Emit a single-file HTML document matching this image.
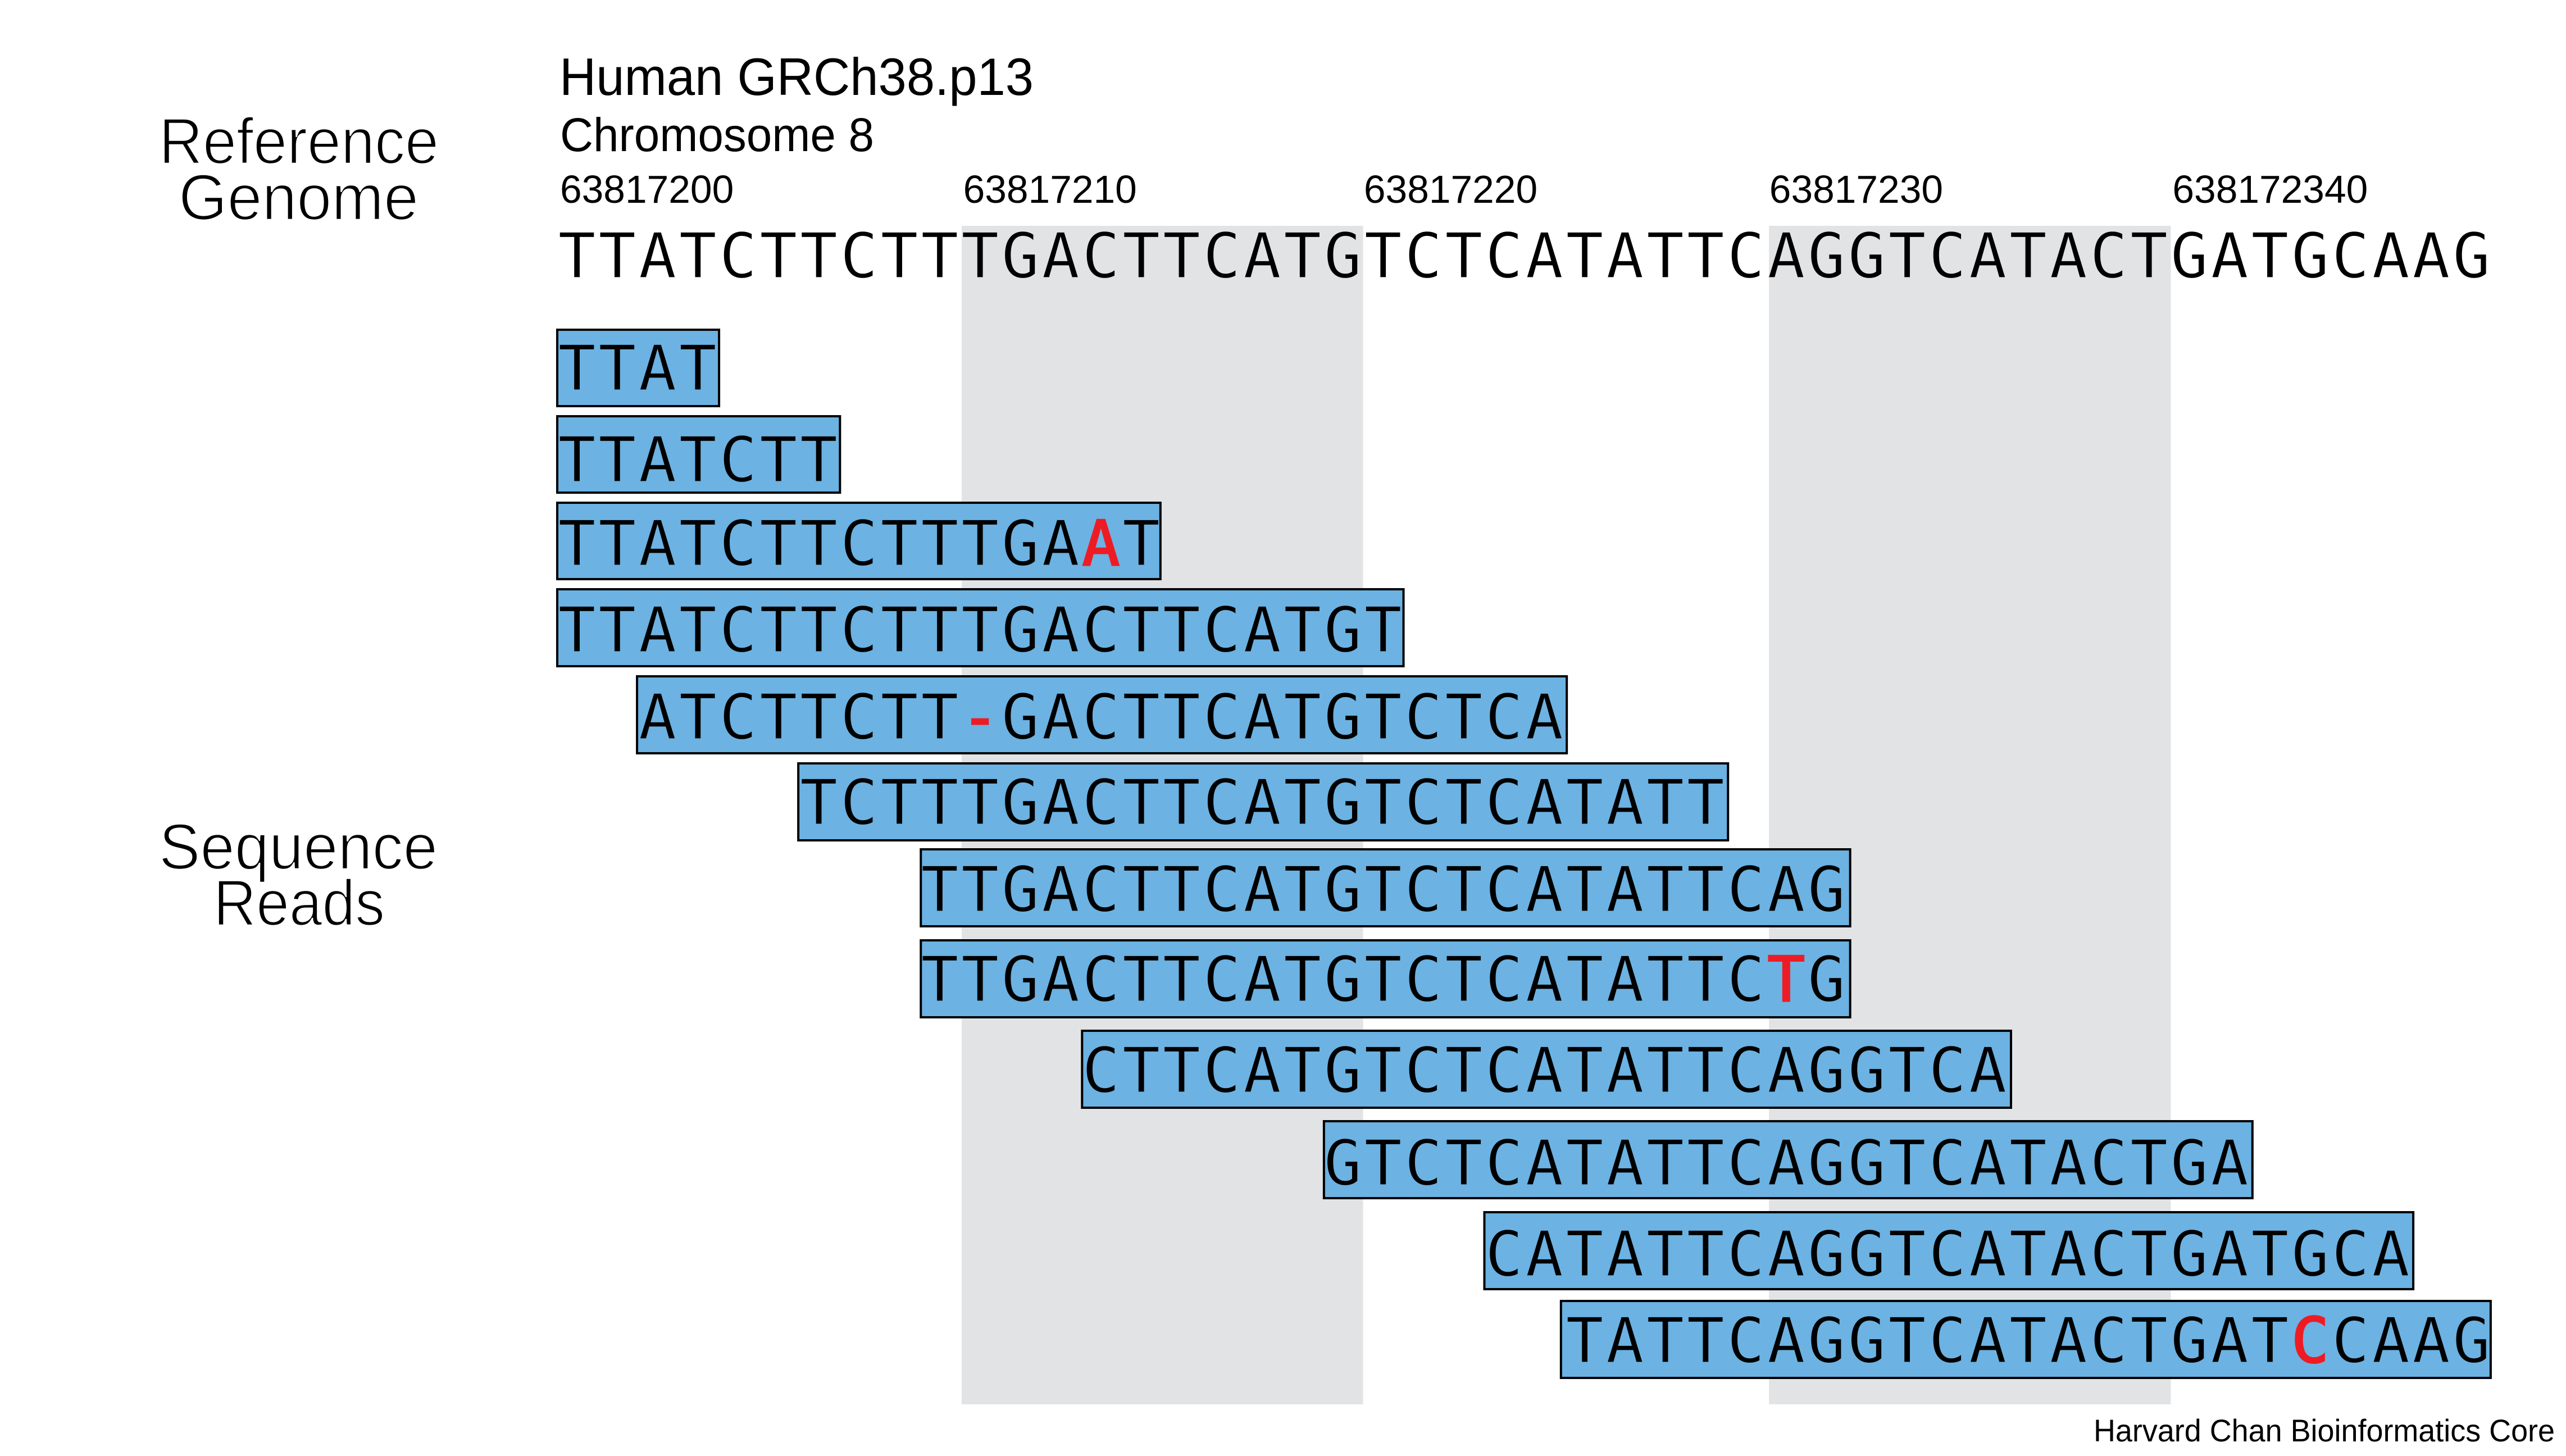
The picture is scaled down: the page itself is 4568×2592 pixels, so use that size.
<!DOCTYPE html>
<html lang="en">
<head>
<meta charset="utf-8">
<title>Reference genome and sequence reads</title>
<style>
html,body{margin:0;padding:0;background:#fff;}
svg{display:block;}
.sans{font-family:"Liberation Sans","DejaVu Sans",sans-serif;fill:#000;}
.thin{stroke:#fff;stroke-width:2.6px;}
.seq{font-family:"DejaVu Sans Mono","Liberation Mono",monospace;font-size:111px;fill:#000;}
.seq-read{stroke:#6CB2E2;stroke-width:1.2px;}
.seq-plain{stroke:#fff;stroke-width:1.2px;}
.seq-band{stroke:#E1E3E5;stroke-width:1.2px;}
.mm{fill:#ED1C24;stroke:#ED1C24;stroke-width:3px;}
</style>
</head>
<body>
<svg id="chart" xmlns="http://www.w3.org/2000/svg" width="4568" height="2592" viewBox="0 0 4568 2592">
  <rect x="0" y="0" width="4568" height="2592" fill="#ffffff"/>
  <g id="bands"></g>
  <g id="ticks"></g>
  <text id="ref" class="seq"></text>
  <g id="reads"></g>

  <text class="sans" x="996" y="169" font-size="94" textLength="844" lengthAdjust="spacingAndGlyphs">Human GRCh38.p13</text>
  <text class="sans" x="997" y="269" font-size="84" textLength="559" lengthAdjust="spacingAndGlyphs">Chromosome 8</text>

  <text class="sans thin" x="283" y="291" font-size="115" textLength="498" lengthAdjust="spacingAndGlyphs">Reference</text>
  <text class="sans thin" x="318" y="391" font-size="115" textLength="427" lengthAdjust="spacingAndGlyphs">Genome</text>
  <text class="sans thin" x="283" y="1547" font-size="115" textLength="496" lengthAdjust="spacingAndGlyphs">Sequence</text>
  <text class="sans thin" x="380" y="1647" font-size="115" textLength="305" lengthAdjust="spacingAndGlyphs">Reads</text>

  <text class="sans" x="3727" y="2566" font-size="56" textLength="821" lengthAdjust="spacingAndGlyphs">Harvard Chan Bioinformatics Core</text>
</svg>
<script>
// ---- data ----
const referenceSeq = "TTATCTTCTTTGACTTCATGTCTCATATTCAGGTCATACTGATGCAAG";
const tickLabels = ["63817200","63817210","63817220","63817230","638172340"];
const tickBases = [0,10,19.94,30,40];
const bandStarts = [10,30.03];
const bandEnds = [19.96,40];
const readSeqs = [
  "TTAT",
  "TTATCTT",
  "TTATCTTCTTTGAAT",
  "TTATCTTCTTTGACTTCATGT",
  "ATCTTCTT-GACTTCATGTCTCA",
  "TCTTTGACTTCATGTCTCATATT",
  "TTGACTTCATGTCTCATATTCAG",
  "TTGACTTCATGTCTCATATTCTG",
  "CTTCATGTCTCATATTCAGGTCA",
  "GTCTCATATTCAGGTCATACTGA",
  "CATATTCAGGTCATACTGATGCA",
  "TATTCAGGTCATACTGATCCAAG"
];
const readStarts = [0,0,0,0,2,6,9,9,13,19,23,25];
// index in each read of the base that differs from the reference (-1 = none)
const readMismatch = [-1,-1,13,-1,8,-1,-1,21,-1,-1,-1,18];
// box extents along the base axis, as drawn (slightly uneven in the figure)
const boxStarts = [0,0,0,0,1.98,5.98,9.02,9.02,13.02,19.02,23,24.9];
const boxEnds = [4.07,7.07,15.02,21.05,25.1,29.1,32.13,32.13,36.12,42.11,46.1,48.02];
// vertical placement in lane units (1 lane = 100px from the first box top)
const laneTops = [0,1.54,3.08,4.62,6.17,7.72,9.25,10.87,12.48,14.09,15.71,17.29];
const laneBottoms = [1.4,2.94,4.48,6.03,7.58,9.13,10.66,12.28,13.89,15.5,17.12,18.7];
const laneBaselines = [1.09,2.72,4.21,5.75,7.3,8.82,10.37,11.97,13.59,15.24,16.86,18.4];

// ---- axis functions ----
const PITCH = 71.76;
const GLYPH_ADV = 66.8;
const centerOf = b => 1027 + PITCH * b;
const glyphX = b => centerOf(b) - GLYPH_ADV / 2;
const boxX = b => 990 + PITCH * b;
const bandX = b => 1712 + (b - 10) * 71.75;
const tickX = b => 997 + PITCH * b;
const laneY = l => 585 + l * 100;

const NS = "http://www.w3.org/2000/svg";
function mk(tag, attrs) {
  const el = document.createElementNS(NS, tag);
  for (const k in attrs) el.setAttribute(k, attrs[k]);
  return el;
}
function positions(start, len) {
  const out = [];
  for (let i = 0; i < len; i++) out.push(glyphX(start + i).toFixed(2));
  return out.join(" ");
}

// bands
const bandsG = document.getElementById("bands");
bandStarts.forEach((s, i) => {
  const r = mk("rect", {x: bandX(s), y: 402, width: bandX(bandEnds[i]) - bandX(s), height: 2098, fill: "#E1E3E5"});
  
  
  bandsG.appendChild(r);
});

// ticks
const ticksG = document.getElementById("ticks");
tickLabels.forEach((lab, i) => {
  const t = mk("text", {x: tickX(tickBases[i]), y: 361, "font-size": 69.5, "class": "sans"});
  
  
  t.textContent = lab;
  ticksG.appendChild(t);
});

// reference: slightly thinned glyphs, split at the highlight bands
const refEl = document.getElementById("ref");
refEl.setAttribute("x", positions(0, referenceSeq.length));
refEl.setAttribute("y", 494);
let refCursor = 0;
function refRun(end, cls) {
  const run = mk("tspan", {"class": cls});
  
  
  run.textContent = referenceSeq.slice(refCursor, end);
  refEl.appendChild(run);
  refCursor = end;
}
bandStarts.forEach((s, i) => {
  refRun(Math.round(s), "seq-plain");
  refRun(Math.round(bandEnds[i]), "seq-band");
});
refRun(referenceSeq.length, "seq-plain");

// reads
const readsG = document.getElementById("reads");
readSeqs.forEach((seq, i) => {
  const g = mk("g", {});
  
  

  const x0 = boxX(boxStarts[i]), x1 = boxX(boxEnds[i]);
  const y0 = laneY(laneTops[i]), y1 = laneY(laneBottoms[i]);
  const box = mk("rect", {x: x0 + 2, y: y0 + 2, width: x1 - x0 - 4, height: y1 - y0 - 4,
                          fill: "#6CB2E2", stroke: "#000", "stroke-width": 4});
  
  
  g.appendChild(box);

  const t = mk("text", {"class": "seq seq-read", x: positions(readStarts[i], seq.length), y: laneY(laneBaselines[i])});
  
  
  const m = readMismatch[i];
  if (m < 0) {
    t.textContent = seq;
  } else {
    t.appendChild(document.createTextNode(seq.slice(0, m)));
    const red = mk("tspan", {"class": "mm"});
    
    
    red.textContent = seq[m];
    t.appendChild(red);
    t.appendChild(document.createTextNode(seq.slice(m + 1)));
  }
  g.appendChild(t);
  readsG.appendChild(g);
});
</script>
</body>
</html>
